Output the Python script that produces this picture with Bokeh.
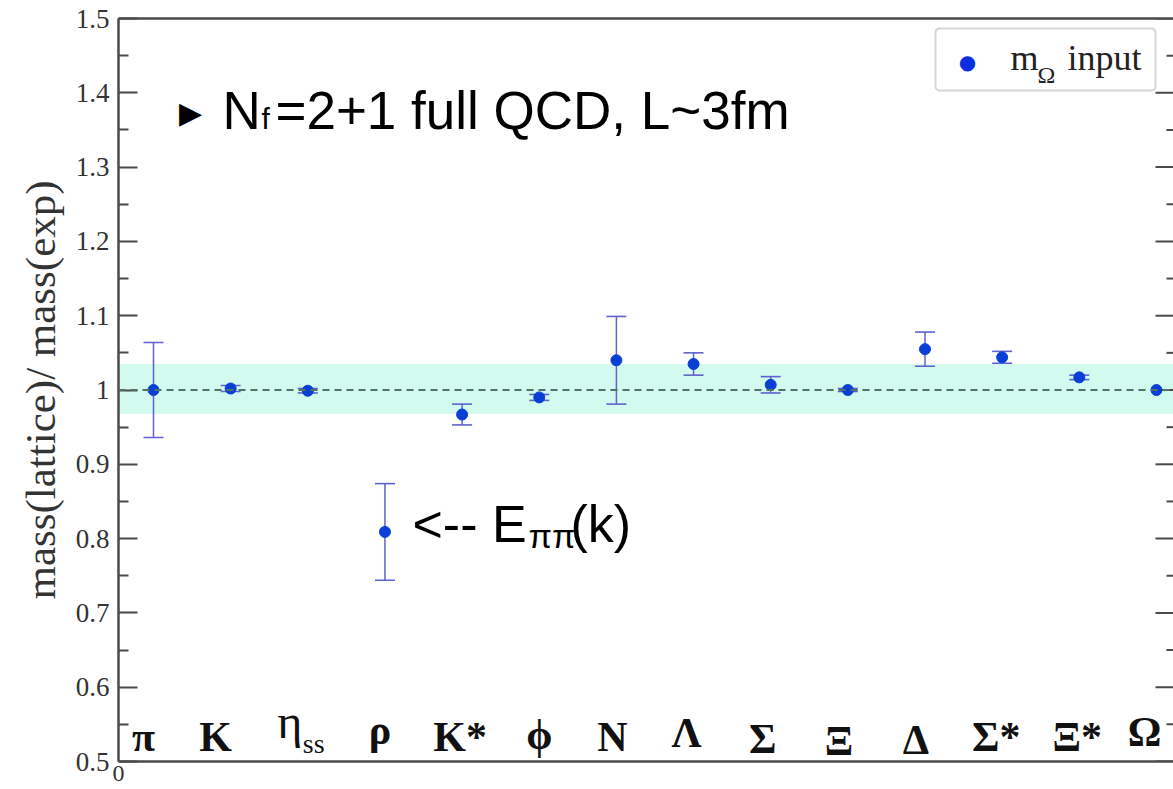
import numpy as np
from bokeh.plotting import figure
from bokeh.models import (Range1d, FixedTicker, CustomJSTickFormatter, LinearAxis,
                          ColumnDataSource, Whisker, TeeHead, Span, BoxAnnotation, Label)
from bokeh.core.properties import value
from bokeh.embed import file_html
from bokeh.resources import INLINE

# ---------------- data ----------------
categories = ["π", "K", "ηss", "ρ", "K*", "ϕ", "N", "Λ", "Σ", "Ξ", "Δ", "Σ*", "Ξ*", "Ω"]
ratio = [1.000, 1.002, 0.999, 0.809, 0.967, 0.990, 1.040, 1.035, 1.007, 1.000, 1.055, 1.044, 1.017, 1.000]
error = [0.064, 0.004, 0.003, 0.065, 0.014, 0.004, 0.059, 0.015, 0.011, 0.002, 0.023, 0.008, 0.003, 0.000]
band_low = 0.968
band_high = 1.035
y_ticks = [0.5, 0.6, 0.7, 0.8, 0.9, 1.0, 1.1, 1.2, 1.3, 1.4, 1.5]
legend_label = ("m", "Ω", "input")

# ---------------- styling ----------------
SERIF = "Liberation Serif"
SANS = "Liberation Sans"
POINT_COLOR = "#0a3fd6"
ERR_COLOR = "#5f62cf"
AXIS_COLOR = "#4a4a4a"
# horizontal (px) and vertical (px, upward) nudges of the category labels
LABEL_DX = {"π": -10, "K": -15, "ηss": -18, "ρ": -5, "K*": -2, "ϕ": 0, "N": -4, "Λ": -7,
            "Σ": -8, "Ξ": -9, "Δ": -9, "Σ*": -6, "Ξ*": -2, "Ω": -12}
LABEL_DY = {"ρ": 7, "Λ": 4, "Ω": 5, "Ξ": -4, "Δ": -3, "Σ": -2, "ϕ": 2}

idx = list(range(len(categories)))
src = ColumnDataSource(dict(x=idx, y=ratio))
err_src = ColumnDataSource(dict(
    x=[i for i, e in zip(idx, error) if e > 0],
    lower=[r - e for r, e in zip(ratio, error) if e > 0],
    upper=[r + e for r, e in zip(ratio, error) if e > 0],
))

x_start, x_end = -0.4537, 13.221
p = figure(width=1173, height=789, x_range=Range1d(x_start, x_end), y_range=Range1d(0.5, 1.5),
           output_backend="svg", toolbar_location=None,
           min_border_left=118, min_border_right=0, min_border_top=18, min_border_bottom=28)
p.xgrid.visible = False
p.ygrid.visible = False
p.outline_line_color = None
p.background_fill_color = "white"
p.border_fill_color = "white"

minor = [round(t + 0.05, 2) for t in y_ticks[:-1]]

# left axis
yax = p.yaxis[0]
yax.ticker = FixedTicker(ticks=y_ticks, minor_ticks=minor)
yax.formatter = CustomJSTickFormatter(code="return tick.toFixed(1).replace(/\\.0$/, '');")
yax.major_tick_in = 19
yax.major_tick_out = 0
yax.minor_tick_in = 10
yax.minor_tick_out = 0
yax.axis_line_color = AXIS_COLOR
yax.axis_line_width = 2.5
yax.major_tick_line_color = AXIS_COLOR
yax.major_tick_line_width = 2
yax.minor_tick_line_color = AXIS_COLOR
yax.minor_tick_line_width = 2
yax.major_label_text_font = SERIF
yax.major_label_text_font_size = "27px"
yax.major_label_text_color = "#333333"
yax.major_label_standoff = 9
yax.axis_label = "mass(lattice)/ mass(exp)"
yax.axis_label_text_font = SERIF
yax.axis_label_text_font_size = "43px"
yax.axis_label_text_font_style = "normal"
yax.axis_label_text_color = "#333333"
yax.axis_label_standoff = 9

# bottom axis: only the "0" at the origin
xax = p.xaxis[0]
xax.ticker = FixedTicker(ticks=[x_start])
xax.formatter = CustomJSTickFormatter(code="return '0';")
xax.major_tick_in = 0
xax.major_tick_out = 0
xax.minor_tick_in = 0
xax.minor_tick_out = 0
xax.axis_line_color = AXIS_COLOR
xax.axis_line_width = 2.5
xax.major_label_text_font = SERIF
xax.major_label_text_font_size = "24px"
xax.major_label_text_color = "#333333"
xax.major_label_standoff = 4

# top spine
top = LinearAxis(ticker=FixedTicker(ticks=[]), axis_line_color=AXIS_COLOR, axis_line_width=2.5,
                 major_tick_in=0, major_tick_out=0, minor_tick_in=0, minor_tick_out=0,
                 major_label_standoff=0)
p.add_layout(top, "above")

# right-edge tick marks (the right spine falls at the picture's edge)
p.ray(x=[x_end] * len(y_ticks), y=y_ticks, length=18, length_units="screen", angle=np.pi,
      line_color=AXIS_COLOR, line_width=2)
p.ray(x=[x_end] * len(minor), y=minor, length=7, length_units="screen", angle=np.pi,
      line_color=AXIS_COLOR, line_width=2)

# band and reference line
p.add_layout(BoxAnnotation(bottom=band_low, top=band_high, fill_color="#d2faee", fill_alpha=1.0,
                           line_color=None, level="underlay"))
p.add_layout(Span(location=1.0, dimension="width", line_color="#4f7267", line_width=1.9,
                  line_dash="7 5"))

# error bars and points
w = Whisker(base="x", lower="lower", upper="upper", source=err_src,
            line_color=ERR_COLOR, line_width=1.5,
            upper_head=TeeHead(size=20, line_color=ERR_COLOR, line_width=1.6),
            lower_head=TeeHead(size=20, line_color=ERR_COLOR, line_width=1.6))
p.add_layout(w)
p.scatter("x", "y", source=src, size=11, fill_color=POINT_COLOR, line_color=POINT_COLOR)

# category labels along the bottom
base_px = 25
plain = [c for c in categories if c != "ηss"]
plain_i = [categories.index(c) for c in plain]
lab_src = ColumnDataSource(dict(
    x=plain_i,
    y=[0.5 + (base_px + LABEL_DY.get(c, 0)) / 743 for c in plain],
    text=plain,
    dx=[LABEL_DX.get(c, 0) for c in plain],
))
p.text(x="x", y="y", text="text", x_offset="dx", source=lab_src,
       text_font=value(SERIF), text_font_size="42px", text_font_style="bold",
       text_align="center", text_baseline="middle", text_color="#111111")
eta_i = categories.index("ηss")
p.text(x=[eta_i], y=[0.5 + 40 / 743], text=["η"], x_offset=LABEL_DX["ηss"],
       text_font=value(SERIF), text_font_size="48px", text_align="center",
       text_baseline="middle", text_color="#111111")
p.text(x=[eta_i], y=[0.5 + 18 / 743], text=["ss"], x_offset=LABEL_DX["ηss"] + 13,
       text_font=value(SERIF), text_font_size="28px", text_align="left",
       text_baseline="middle", text_color="#111111")

# annotations
def lab(x, y, text, size, font=SANS, dx=0, align="left", color="black"):
    p.add_layout(Label(x=x, y=y, text=text, x_offset=dx, text_font=font, text_font_size=size,
                       text_align=align, text_baseline="middle", text_color=color))

lab(0.48, 1.373, "▶", "30px", font="DejaVu Sans", align="center")
lab(0.894, 1.3762, "N", "53px")
lab(0.894, 1.3654, "f", "30px", dx=39)
lab(0.894, 1.3762, "=2+1 full QCD, L~3fm", "53px", dx=53)

lab(3.357, 0.819, "<-- E", "52px")
lab(3.357, 0.804, "ππ", "34px", dx=116)
lab(3.357, 0.819, "(k)", "52px", dx=158)

# legend box (top right)
p.add_layout(BoxAnnotation(left=10.136, right=12.988, bottom=1.4031, top=1.4865,
                           fill_color="white", fill_alpha=1.0, line_color="#777777",
                           line_width=2, border_radius=4))
lab(10.551, 1.4421, "●", "20px", font="DejaVu Sans", align="center", color="#0a2fe0")
lab(11.108, 1.4475, legend_label[0], "36px", font=SERIF, color="#222222")
lab(11.108, 1.4233, legend_label[1], "24px", font=SERIF, dx=27, color="#222222")
lab(11.108, 1.4475, legend_label[2], "36px", font=SERIF, dx=57, color="#222222")

open("out.html", "w").write(file_html(p, INLINE))
